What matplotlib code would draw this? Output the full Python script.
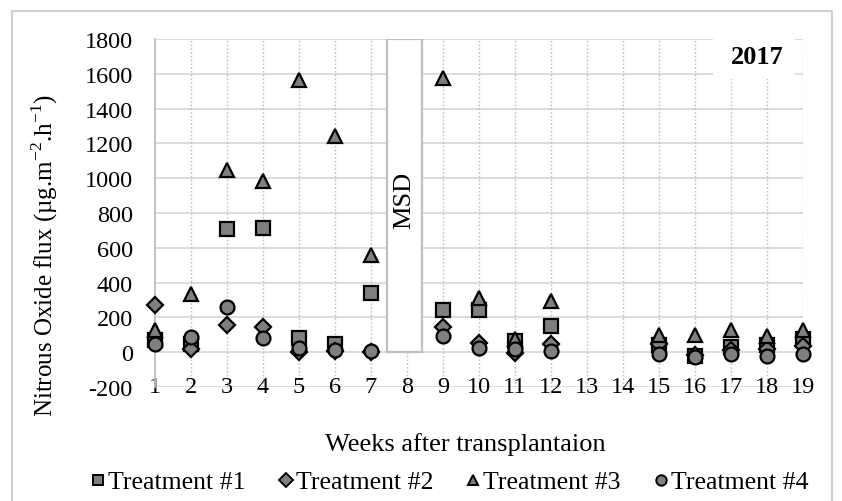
import numpy as np
import matplotlib
matplotlib.use("Agg")
import matplotlib.pyplot as plt
from matplotlib.patches import Rectangle
from matplotlib.lines import Line2D

plt.rcParams['font.family'] = ['Liberation Serif', 'DejaVu Serif']
plt.rcParams['mathtext.fontset'] = 'custom'
plt.rcParams['mathtext.rm'] = 'Liberation Serif'

nan = np.nan
weeks = list(range(1, 20))
t1 = [70, 50, 710, 715, 80, 45, 340, nan, 245, 245, 65, 150, nan, nan, 40, -20, 30, 40, 75]
t2 = [270, 20, 155, 145, 0, 5, 0, nan, 145, 55, -5, 50, nan, nan, 50, -15, 15, 20, 35]
t3 = [130, 335, 1045, 985, 1565, 1245, 560, nan, 1575, 310, 75, 295, nan, nan, 100, 100, 130, 95, 130]
t4 = [45, 85, 260, 80, 25, 15, 5, nan, 95, 25, 20, 5, nan, nan, -10, -25, -10, -20, -10]
series_names = ['Treatment #1', 'Treatment #2', 'Treatment #3', 'Treatment #4']
yticks = list(range(-200, 1801, 200))
msd_week = 8
msd_value = 1800

fig = plt.figure(figsize=(8.42, 5.02), dpi=100)
ax = fig.add_axes([155/842, 1-388/502, (803-155)/842, (388-40)/502])
ax.set_xlim(1, 19)
ax.set_ylim(-200, 1800)

# gridlines
for y in yticks:
    ax.axhline(y, color='#d9d9d9', lw=1.3, zorder=0.5)
for w in weeks[1:]:
    ax.axvline(w, color='#bfbfbf', lw=1.0, ls=(0, (1.2, 1.5)), zorder=0.5)

# MSD box
ax.bar([msd_week - 0.07], [msd_value], width=0.96, color='white', edgecolor='#bfbfbf', lw=1.6, zorder=1)
ax.text(msd_week - 0.07, msd_value / 2 - 20, 'MSD', rotation=90, ha='center', va='center', fontsize=19, zorder=2)

marker_kw = dict(ls='none', mfc='#7f7f7f', mec='black', mew=1.6, clip_on=False, zorder=3)
ax.plot(weeks, t1, marker='s', ms=9.5, **marker_kw)
ax.plot(weeks, t2, marker='D', ms=8.5, **marker_kw)
ax.plot(weeks, t3, marker='^', ms=10.5, **marker_kw)
ax.plot(weeks, t4, marker='o', ms=10, **marker_kw)

# white box behind 2017
ax.add_patch(Rectangle((0.861, 0.885), 0.127, 0.13, transform=ax.transAxes,
                       facecolor='white', edgecolor='none', zorder=1.5, clip_on=False))
fig.text(757/842, 1-58/502, '2017', fontsize=19, fontweight='bold', ha='center', va='center')

for s in ['top', 'right', 'bottom']:
    ax.spines[s].set_visible(False)
ax.spines['left'].set_color('#bfbfbf')
ax.spines['left'].set_linewidth(1.3)

ax.set_xticks(weeks)
ax.set_xticklabels([str(w) for w in weeks], fontsize=17.5, va='center')
ax.set_yticks(yticks)
ax.set_yticklabels([str(v) for v in yticks], fontsize=17.5)
ax.tick_params(axis='x', length=0, pad=0)
ax.tick_params(axis='y', length=0, pad=16)

fig.text(45/842, 1-255/502, r'Nitrous Oxide flux (µg.m$^{-2}$.h$^{-1}$)', rotation=90,
         ha='center', va='center', fontsize=18)
fig.text(465/842, 1-445/502, 'Weeks after transplantaion', ha='center', va='center', fontsize=19)

handles = [Line2D([], [], ls='none', marker=m, ms=7.5, mfc='#7f7f7f', mec='black', mew=1.4)
           for m in ['s', 'D', '^', 'o']]
fig.legend(handles, series_names, loc='center', bbox_to_anchor=(450/842, 1-483/502), ncol=4,
           frameon=False, fontsize=18.5, handlelength=0.5, handletextpad=0.15, columnspacing=1.3,
           borderpad=0)

fig.patches.append(Rectangle((12/842, -0.1), (832-12)/842, 1.1 - 12/502, transform=fig.transFigure,
                             fill=False, edgecolor='#d0d0d0', lw=1.5))

fig.savefig('out.png', dpi=100)
